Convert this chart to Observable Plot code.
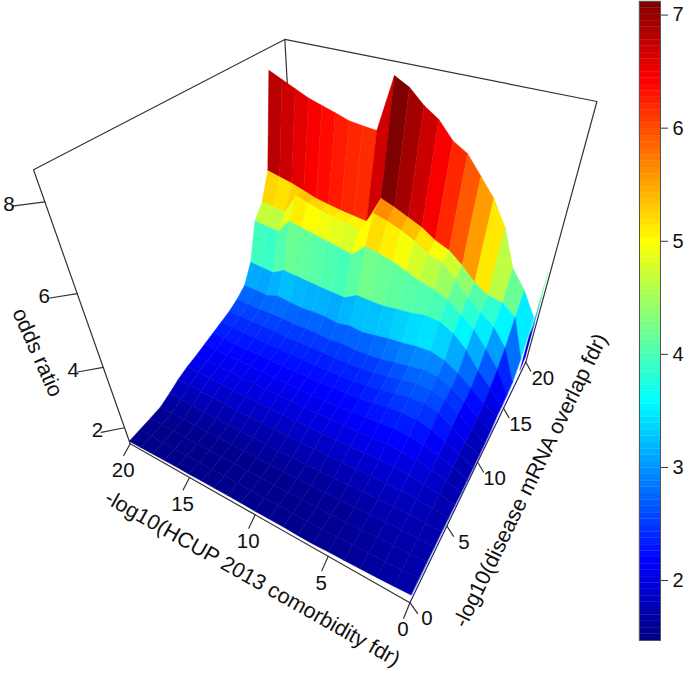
<!DOCTYPE html><html><head><meta charset="utf-8"></head><body style="margin:0;background:#fff">
<script src="https://cdn.jsdelivr.net/npm/d3@7"></script>
<script src="https://cdn.jsdelivr.net/npm/@observablehq/plot@0.6"></script>
<div id="c" style="position:relative;width:685px;height:673px"></div>
<script>
// odds ratio: rows are -log10(disease mRNA overlap fdr) = 0..18, columns -log10(HCUP fdr) = 0..20
const row00=[1.72,1.68,1.65,1.62,1.6,1.58,1.55,1.55,1.56,1.56,1.55,1.56,1.56,1.55,1.55,1.54,1.54,1.53,1.52,1.51,1.5];
const row01=[1.72,1.68,1.64,1.62,1.6,1.58,1.56,1.55,1.55,1.54,1.54,1.53,1.53,1.53,1.52,1.52,1.52,1.52,1.52,1.53,1.53];
const row02=[1.72,1.7,1.68,1.66,1.62,1.6,1.58,1.56,1.55,1.55,1.54,1.54,1.54,1.54,1.54,1.54,1.54,1.54,1.55,1.55,1.56];
const row03=[1.72,1.72,1.72,1.7,1.68,1.65,1.62,1.6,1.6,1.58,1.58,1.58,1.58,1.58,1.58,1.58,1.58,1.58,1.58,1.59,1.6];
const row04=[1.72,1.75,1.76,1.76,1.74,1.72,1.7,1.68,1.67,1.67,1.66,1.66,1.66,1.66,1.66,1.67,1.67,1.68,1.7,1.72,1.74];
const row05=[1.7,1.78,1.82,1.84,1.84,1.83,1.82,1.8,1.8,1.79,1.79,1.79,1.79,1.79,1.8,1.8,1.82,1.84,1.86,1.88,1.9];
const row06=[1.68,1.8,1.88,1.95,1.98,1.98,1.97,1.95,1.95,1.94,1.94,1.93,1.93,1.93,1.94,1.95,1.96,1.98,2,2.01,2.02];
const row07=[1.65,1.82,1.95,2.05,2.1,2.12,2.1,2.08,2.07,2.06,2.05,2.05,2.05,2.05,2.05,2.06,2.07,2.08,2.08,2.09,2.1];
const row08=[1.65,1.85,2.02,2.15,2.22,2.25,2.22,2.2,2.16,2.14,2.13,2.12,2.12,2.12,2.12,2.13,2.14,2.15,2.15,2.17,2.2];
const row09=[1.65,1.88,2.1,2.3,2.4,2.42,2.38,2.32,2.26,2.24,2.22,2.2,2.2,2.2,2.2,2.22,2.22,2.24,2.25,2.27,2.3];
const row10=[1.66,1.9,2.22,2.48,2.58,2.58,2.5,2.42,2.36,2.32,2.3,2.28,2.28,2.3,2.3,2.32,2.32,2.34,2.35,2.37,2.4];
const row11=[1.68,1.95,2.3,2.55,2.68,2.7,2.62,2.52,2.46,2.42,2.4,2.4,2.4,2.42,2.42,2.42,2.45,2.45,2.46,2.48,2.5];
const row12=[1.72,2.0,2.35,2.6,2.78,2.82,2.75,2.68,2.6,2.56,2.55,2.58,2.55,2.58,2.58,2.58,2.6,2.62,2.6,2.62,2.65];
const row13=[1.85,2.1,2.45,2.75,2.98,3.1,3.08,3.02,2.98,2.92,2.85,2.9,2.82,2.88,2.88,2.86,2.9,2.95,2.82,2.85,2.86];
const row14=[1.85,2.3,2.7,3.2,3.55,3.75,3.78,3.7,3.65,3.6,3.6,3.62,3.4,3.42,3.45,3.48,3.52,3.55,3.34,3.37,3.4];
const row15=[1.9,2.6,3.1,3.55,3.85,4.15,4.3,4.4,4.55,4.7,4.8,4.87,4.5,4.58,4.65,4.72,4.8,4.86,4.43,4.47,4.52];
const row16=[2.0,3.0,3.5,3.8,4.1,4.5,4.85,4.95,5.18,5.36,5.49,5.59,5.02,5.08,5.12,5.2,5.3,5.41,4.8,4.85,4.88];
const row17=[2.5,3.69,3.99,4.05,4.3,4.66,4.96,5.11,5.35,5.51,5.67,5.8,5.04,5.08,5.12,5.18,5.25,5.36,5.47,5.55,5.63];
const row18=[3.55,4.25,4.75,5.75,6.38,6.82,7.26,7.47,7.86,8.09,8.41,8.59,7.27,7.3,7.34,7.45,7.55,7.65,7.8,7.95,8.1];
const oddsRatio=[row00,row01,row02,row03,row04,row05,row06,row07,row08,row09,row10,row11,row12,row13,row14,row15,row16,row17,row18];
// thin facets behind the last row at the low-comorbidity corner: [x,y,z] corners and facet value
const spikeValues=[2.0,3.1,4.15];
const spikeCorners=[
 [[0,19,3.12],[0,19,1.9],[0,18,1.75],[0,18,3.0]],
 [[0,19,3.9],[0,19,3.0],[0,18.2,3.0]],
 [[0,19,4.7],[0,19,3.7],[0,18.4,3.7]]
];
const hcupTicks=[0,5,10,15,20];
const mrnaTicks=[0,5,10,15,20];
const oddsTicks=[2,4,6,8];
const barTicks=[2,3,4,5,6,7];
const zLim=[1.4,8.6];
const colorDomain=[1.47,7.12];
const jetStops=["#00007F","#0000FF","#007FFF","#00FFFF","#7FFF7F","#FFFF00","#FF7F00","#FF0000","#7F0000"];
const font="Liberation Sans, Arial, sans-serif";

// perspective camera of the box (homogeneous 3x4, on x/20, y/20, (z-zmin)/(zmax-zmin), in units of 600px)
const camU=[-0.41492,0.54618,-0.22075,0.68235];
const camV=[-0.08957,-0.15815,-0.67482,1.00367];
const camW=[0.23725,0.40317,-0.38935,1];
function proj(x,y,z){
 const X=x/20,Y=y/20,Z=(z-zLim[0])/(zLim[1]-zLim[0]);
 const dot=r=>r[0]*X+r[1]*Y+r[2]*Z+r[3], w=dot(camW);
 return [600*dot(camU)/w,600*dot(camV)/w];
}
const persp=d3.geoTransform({point(x,y,z){const q=z===undefined?[x,y]:proj(x,y,z);this.stream.point(q[0],q[1]);}});

// facets painted back to front
const facets=[];
for(let j=oddsRatio.length-2;j>=0;j--)for(let i=19;i>=0;i--){
 const c=[[i,j],[i+1,j],[i+1,j+1],[i,j+1]].map(([a,b])=>[a,b,oddsRatio[b][a]]);
 facets.push({value:d3.mean(c,d=>d[2]),geometry:{type:"Polygon",coordinates:[[...c,c[0]]]}});
}
const spikes=spikeCorners.map((c,k)=>({value:spikeValues[k],geometry:{type:"Polygon",coordinates:[[...c,c[0]]]}}));
const line=(...c)=>({type:"LineString",coordinates:c});
const [z0,z1]=zLim;
const backBox=[line([20,0,z0],[20,0,z1],[20,20,z1],[0,20,z1],[0,20,z0]),line([20,20,z1],[20,20,z0])];
const frontX=[line([20,0,z0],[0,0,z0])];
const frontY=[line([0,0,z0],[0,20,z0])];
const ticks=[...hcupTicks.map(v=>line([v,0,z0],[v,-0.7,z0-0.15])),
 ...mrnaTicks.map(v=>line([0,v,z0],[-0.5,v,z0-0.25])),
 ...oddsTicks.map(v=>line([20,0,v],[21,-1,v]))];
const tickLabels=[
 ...hcupTicks.map(v=>{const p=proj(v,0,z0);return {x:p[0]-7,y:p[1]+27,t:String(v)}}),
 ...mrnaTicks.map(v=>{const p=proj(0,v,z0);return {x:p[0]+17,y:p[1]+16,t:String(v)}}),
 ...oddsTicks.map(v=>{const p=proj(20,0,v);return {x:p[0]-27-1.5*(v-2),y:p[1]+3,t:String(v)}})
];
const titles=[
 {x:252,y:578,r:29.5,t:"-log10(HCUP 2013 comorbidity fdr)"},
 {x:530,y:480,r:-64,t:"-log10(disease mRNA overlap fdr)"},
 {x:37,y:352,r:66,t:"odds ratio"}
];
const colorOpt={type:"linear",domain:colorDomain,interpolate:d3.piecewise(d3.interpolateRgb,jetStops),clamp:true};
const line1={stroke:"#333",strokeWidth:1.2};
const main=Plot.plot({width:685,height:673,margin:0,style:{background:"transparent",fontFamily:font},
 projection:persp,color:colorOpt,marks:[
 Plot.geo(backBox,line1),
 Plot.geo(spikes,{geometry:d=>d.geometry,fill:d=>d.value,stroke:d=>d.value,strokeWidth:0.3}),
 Plot.geo(facets,{geometry:d=>d.geometry,fill:d=>d.value,stroke:d=>d.value,strokeWidth:0.5}),
 Plot.geo(frontX,line1),
 Plot.geo(frontY,{stroke:"#24246e",strokeWidth:1.2}),
 Plot.geo(ticks,line1),
 Plot.text(tickLabels,{x:"x",y:"y",text:"t",fontSize:20.5,fill:"#111",textAnchor:"middle"}),
 Plot.text(titles.slice(0,1),{x:"x",y:"y",text:"t",rotate:d=>d.r,fontSize:21.5,fill:"#111"}),
 Plot.text(titles.slice(1,2),{x:"x",y:"y",text:"t",rotate:d=>d.r,fontSize:21.5,fill:"#111"}),
 Plot.text(titles.slice(2),{x:"x",y:"y",text:"t",rotate:d=>d.r,fontSize:21.5,fill:"#111"})
]});
const n=100,levels=d3.range(n).map(k=>{const s=(colorDomain[1]-colorDomain[0])/n,lo=colorDomain[0]+k*s;return {lo,hi:lo+s,mid:lo+s/2}});
const bar=Plot.plot({width:685,height:673,marginLeft:639,marginRight:25,marginTop:1,marginBottom:33,
 style:{background:"transparent",fontFamily:font,position:"absolute",left:0,top:0},
 y:{domain:colorDomain},color:colorOpt,marks:[
 Plot.rect(levels,{y1:"lo",y2:"hi",fill:"mid",stroke:"mid",strokeWidth:0.3}),
 Plot.frame({stroke:"#555"}),
 Plot.axisY({anchor:"right",ticks:barTicks,tickFormat:d3.format("d"),tickSize:7,tickPadding:5,fontSize:20,label:null,fill:"#111",stroke:"#333"})
]});
main.style.position="absolute";main.style.left=0;main.style.top=0;
const c=document.getElementById("c");c.append(main);c.append(bar);
</script></body></html>
